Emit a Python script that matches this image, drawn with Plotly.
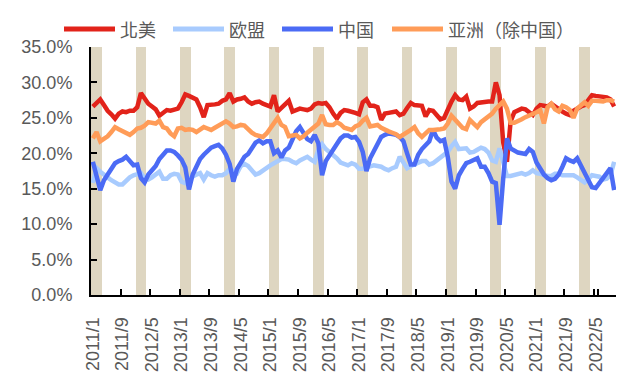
import plotly.graph_objects as go

# ---------------- data ----------------
months = [f"{y}/{m}" for y in range(2011, 2023) for m in range(1, 13)][:142]  # 2011/1 .. 2022/10
tick_labels = months[::8]

north_america = [
    26.6, 27.2, 27.6, 26.8, 26.0, 25.5, 24.9, 25.6, 25.9, 25.8, 26.0, 26.0,
    26.5, 28.5, 27.6, 27.0, 26.6, 26.2, 25.3, 25.8, 26.1, 26.0, 26.1, 26.3,
    27.2, 28.3, 28.1, 27.9, 27.6, 26.5, 25.1, 26.8, 26.8, 26.9, 27.0, 27.4,
    27.6, 28.5, 27.3, 27.6, 27.7, 27.9, 27.3, 27.0, 27.2, 27.3, 27.0, 26.8,
    26.6, 28.2, 25.9, 26.4, 27.0, 27.4, 25.9, 26.1, 26.3, 26.2, 26.1, 26.3,
    26.9, 27.1, 27.0, 27.1, 26.5, 25.6, 24.9, 25.7, 26.1, 26.0, 25.9, 25.7,
    25.5, 27.2, 27.6, 26.7, 26.7, 26.5, 24.7, 25.6, 25.7, 25.8, 25.9, 25.4,
    25.6, 26.4, 27.1, 26.8, 26.8, 26.7, 25.2, 26.1, 26.0, 25.5, 24.8, 25.0,
    26.2, 27.3, 28.2, 27.6, 27.5, 28.0, 26.3, 26.6, 27.1, 27.2, 27.3, 27.3,
    27.3, 30.0, 28.2, 21.5, 18.8, 24.5, 25.8, 26.1, 26.3, 26.2, 25.8, 25.4,
    26.3, 26.8, 26.7, 26.6, 27.0, 26.6, 26.1, 25.9, 25.6, 25.4, 26.0, 26.4,
    26.6, 26.8, 27.5, 28.2, 28.1, 28.0, 28.0, 27.9, 27.6, 26.6,
]

eu = [
    15.8, 17.9, 17.4, 16.9, 16.6, 16.2, 15.9, 15.6, 15.6, 16.2, 16.6, 16.9,
    17.0, 17.2, 16.5, 16.3, 16.6, 17.0, 17.4, 16.4, 16.4, 16.9, 17.1, 17.0,
    16.0, 15.8, 16.3, 16.7, 17.0, 17.2, 16.3, 17.2, 16.9, 16.7, 16.9, 16.9,
    17.2, 17.8, 17.5, 17.2, 18.2, 18.5, 18.2, 17.6, 17.0, 17.2, 17.6, 17.9,
    18.3, 18.6, 18.9, 19.2, 19.2, 19.1, 18.8, 18.6, 19.0, 19.3, 19.5, 19.1,
    18.8, 20.5, 21.3, 20.6, 20.2, 19.8, 19.3, 18.7, 18.5, 18.3, 18.6, 18.4,
    17.8, 17.8, 18.0, 18.2, 18.3, 18.2, 18.1, 17.8, 17.6, 17.9, 18.1, 19.5,
    18.6, 17.9, 18.2, 18.4, 18.6, 18.9, 18.9, 18.4, 18.6, 19.0, 19.2, 19.7,
    20.2, 21.0, 21.6, 20.6, 20.6, 20.7, 20.1, 20.2, 20.5, 20.8, 20.6, 20.1,
    19.0, 18.8, 20.7, 18.5, 16.8, 16.8, 16.9, 17.1, 17.2, 17.0, 17.2, 17.6,
    17.2, 17.1, 16.9, 16.8, 16.8, 17.1, 17.1, 16.9, 16.9, 16.9, 16.9, 16.6,
    16.2, 15.9, 16.4, 16.9, 16.8, 16.7, 16.3, 16.4, 16.9, 18.8,
]

china = [
    18.8, 17.0, 14.8, 16.2, 17.0, 18.0, 18.6, 18.9, 19.1, 19.5, 18.9, 18.3,
    18.4, 16.5, 15.9, 17.0, 17.6, 18.2, 19.2, 19.8, 20.4, 20.4, 20.2, 19.7,
    19.1, 18.0, 14.9, 17.0, 18.2, 19.2, 19.8, 20.4, 20.8, 21.0, 21.2, 20.7,
    19.8, 18.5, 16.0, 17.8, 18.7, 19.5, 19.9, 20.6, 21.5, 21.8, 21.4, 21.7,
    21.7, 20.0, 20.4, 19.4, 20.4, 20.8, 21.9, 23.1, 23.7, 22.7, 22.0, 21.7,
    22.6, 21.4, 16.9, 18.9, 19.8, 20.6, 21.3, 22.1, 22.5, 22.5, 22.2, 22.3,
    21.6, 20.2, 17.5, 19.3, 20.2, 21.2, 22.3, 22.6, 22.8, 22.7, 22.6, 22.3,
    21.7, 20.0, 18.4, 18.4, 19.8, 20.6, 21.1, 21.7, 23.3, 22.2, 21.7, 21.9,
    19.5, 16.0, 15.0, 16.9, 17.8, 18.6, 18.8, 19.1, 19.3, 18.1, 18.1, 17.2,
    16.0, 15.8, 9.9, 16.5, 22.1, 20.7, 20.4, 20.1, 20.0, 19.9, 20.6, 20.2,
    18.7, 17.8, 17.0, 16.5, 16.2, 16.4, 17.0, 18.1, 19.3, 19.0, 18.8, 19.3,
    18.3, 17.2, 16.1, 15.2, 15.1, 15.8, 16.6, 17.2, 17.9, 14.8,
]

asia_ex_china = [
    22.1, 23.0, 21.7, 22.0, 22.4, 23.0, 23.7, 23.4, 23.1, 22.9, 22.6, 23.0,
    23.5, 23.6, 23.9, 24.4, 24.3, 24.2, 24.6, 23.7, 23.5, 22.8, 22.4, 23.5,
    23.6, 23.3, 23.4, 23.3, 23.0, 23.3, 23.7, 23.5, 23.3, 23.6, 23.9, 24.2,
    24.5, 24.2, 23.7, 23.8, 24.0, 23.9, 23.3, 22.9, 22.6, 22.4, 22.3, 22.8,
    23.5, 24.2, 25.0, 24.0, 23.7, 22.4, 22.5, 22.6, 22.1, 22.4, 22.9, 23.3,
    23.7, 24.2, 25.4, 24.1, 24.0, 24.0, 24.4, 24.1, 23.6, 23.4, 23.3, 23.8,
    24.0, 24.6, 25.0, 23.8, 23.9, 24.0, 23.6, 23.3, 23.1, 22.9, 22.7, 22.3,
    22.6, 22.9, 23.3, 23.7, 22.8, 22.3, 22.8, 23.3, 23.3, 23.3, 23.4, 23.5,
    24.2, 25.3, 24.8, 24.2, 23.6, 23.4, 24.7, 24.2, 23.7, 24.4, 24.8, 25.3,
    25.6, 26.3, 26.8, 27.3, 26.3, 24.3, 24.3, 24.5, 24.8, 25.1, 25.3, 25.5,
    25.8, 26.1, 24.2, 26.5, 27.0, 26.2, 25.9, 26.7, 26.5, 26.1, 25.0, 26.3,
    26.8, 27.2, 26.7, 27.4, 27.4, 27.3, 27.3, 27.5, 27.5, 27.3,
]

shade_months = ["2011/2", "2012/2", "2013/2", "2014/2", "2015/2", "2016/2",
                "2017/2", "2018/2", "2019/2", "2020/2", "2021/2", "2022/2"]
shade_values = [35, 35, 35, 35, 35, 35, 35, 35, 35, 35, 35, 35]

series_names = ["北美", "欧盟", "中国", "亚洲（除中国）"]
series_values = [north_america, eu, china, asia_ex_china]
series_colors = ["#E2231A", "#A8CBFE", "#4B6BF5", "#FF9C58"]

# ---------------- figure ----------------
W, H = 640, 374
L, R, T, B = 91, 24, 47, 79
PW, PH = W - L - R, H - T - B

fig = go.Figure()

fig.add_trace(go.Bar(
    x=shade_months, y=shade_values, width=2.9,
    marker=dict(color="#DED6C1", line=dict(width=0)),
    showlegend=False, hoverinfo="skip",
))

for name, vals, col in zip(series_names, series_values, series_colors):
    fig.add_trace(go.Scatter(
        x=months, y=vals, mode="lines", name=name,
        line=dict(color=col, width=4.5),
        showlegend=False,
    ))

tick_font = dict(family="Liberation Sans, Arial, sans-serif", size=18, color="#595959")

fig.update_layout(
    width=W, height=H,
    margin=dict(l=L, r=R, t=T, b=B, pad=0, autoexpand=False),
    paper_bgcolor="white", plot_bgcolor="white",
    bargap=0,
    xaxis=dict(
        type="category", categoryorder="array", categoryarray=months,
        range=[-0.5, len(months) - 0.5], automargin=False,
        tickmode="array", tickvals=tick_labels, ticktext=tick_labels,
        tickson="boundaries",
        ticks="inside", ticklen=6, tickwidth=2, tickcolor="black",
        showline=True, linecolor="black", linewidth=2,
        showgrid=False, zeroline=False,
        tickangle=-90, tickfont=tick_font, ticklabelstandoff=13,
    ),
    yaxis=dict(
        range=[0, 35], dtick=5, tick0=0, automargin=False,
        tickformat=".1f", ticksuffix="%",
        ticks="inside", ticklen=6, tickwidth=2, tickcolor="black",
        showline=True, linecolor="black", linewidth=2,
        showgrid=False, zeroline=False,
        tickfont=tick_font, ticklabelstandoff=13,
    ),
)

# ---------------- legend (drawn as swatches + text) ----------------
def px(xp):
    return (xp - L) / PW

def py(yp):
    return (H - B - yp) / PH

legend_x = [64, 173, 282, 392]
legend_y = 29
for name, col, x0 in zip(series_names, series_colors, legend_x):
    fig.add_shape(type="line", xref="paper", yref="paper",
                  x0=px(x0), x1=px(x0 + 51), y0=py(legend_y), y1=py(legend_y),
                  line=dict(color=col, width=5))
    fig.add_annotation(xref="paper", yref="paper", x=px(x0 + 54), y=py(legend_y),
                       text=name, showarrow=False, xanchor="left", yanchor="middle",
                       font=dict(family="Noto Sans CJK TC, Noto Sans CJK SC, sans-serif",
                                 size=18, color="#595959"))

fig.write_html(
    "out.html",
    config={"displayModeBar": False},
    post_script="document.body.style.margin='0';document.body.style.padding='0';",
)
